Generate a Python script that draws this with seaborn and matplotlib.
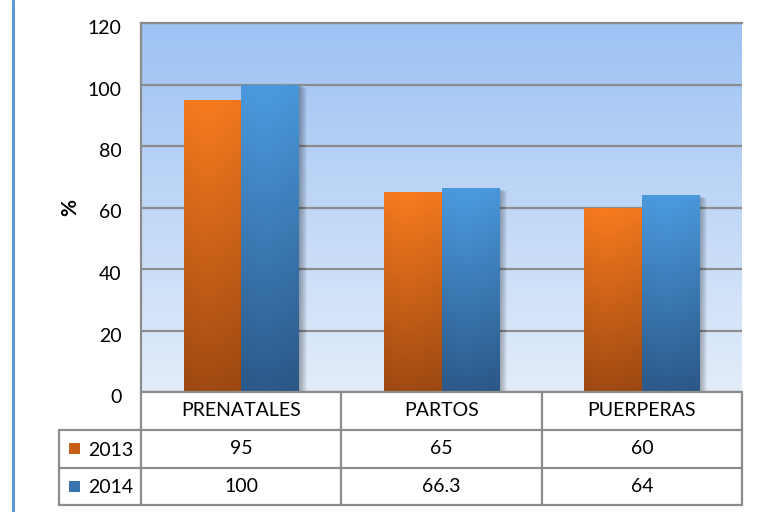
import numpy as np
import pandas as pd
import matplotlib
matplotlib.use("Agg")
import matplotlib.pyplot as plt
import seaborn as sns
from matplotlib.patches import Rectangle
from matplotlib.lines import Line2D
from matplotlib import transforms
from matplotlib.colors import to_rgb

categories = ["PRENATALES", "PARTOS", "PUERPERAS"]
years = ["2013", "2014"]
values_2013 = [95, 65, 60]
values_2014 = [100, 66.3, 64]
value_labels_2013 = ["95", "65", "60"]
value_labels_2014 = ["100", "66.3", "64"]
yticks = [0, 20, 40, 60, 80, 100, 120]

df = pd.DataFrame({
    "cat": categories * 2,
    "year": [years[0]] * 3 + [years[1]] * 3,
    "val": values_2013 + values_2014,
})

sns.set_theme(style="white")
plt.rcParams["font.family"] = ["Lato", "DejaVu Sans"]

W, H = 760, 512
fig = plt.figure(figsize=(7.6, 5.12), dpi=100)
fig.patch.set_facecolor("white")

def fx(px):
    return px / W

def fy(py):
    return 1 - py / H

L, R, T, B = 141, 742, 23, 392
ax = fig.add_axes([fx(L), fy(B), (R - L) / W, (B - T) / H])

palette = {"2013": "#D8681A", "2014": "#3E80C4"}
sns.barplot(data=df, x="cat", y="val", hue="year", palette=palette,
            width=0.574, saturation=1, legend=False, ax=ax, zorder=3)

ax.set_ylim(0, 120)
ax.set_xlim(-0.5, 2.5)
ax.set_yticks(yticks)
ax.set_yticklabels([str(t) for t in yticks])

# background gradient
top_bg, bot_bg = np.array(to_rgb("#9DC2F4")), np.array(to_rgb("#E3EDFA"))
grad = np.linspace(0, 1, 256)[:, None, None]
bg = top_bg * (1 - grad) + bot_bg * grad
ax.imshow(bg, extent=[0, 1, 0, 1], transform=ax.transAxes, aspect="auto",
          zorder=0.1, origin="upper")

grads = {
    "2013": (to_rgb("#F97C1F"), to_rgb("#A04A12")),
    "2014": (to_rgb("#4C9CE2"), to_rgb("#2C5A8A")),
}

bars = [p for p in ax.patches if isinstance(p, Rectangle)]
for p in bars:
    x0, w, h = p.get_x(), p.get_width(), p.get_height()
    if w == 0 or h == 0:
        continue
    fc = p.get_facecolor()
    key = "2013" if abs(fc[0] - to_rgb(palette["2013"])[0]) < 0.05 else "2014"
    c_top, c_bot = np.array(grads[key][0]), np.array(grads[key][1])
    g = np.linspace(0, 1, 256)[:, None, None]
    img = c_top * (1 - g) + c_bot * g
    # slight horizontal shading
    hx = np.linspace(0, 1, 32)[None, :, None]
    img = img * (1 - 0.06 * np.abs(hx - 0.4))
    img = np.clip(img, 0, 1)
    # shadow
    for k in range(1, 9):
        tr = transforms.offset_copy(ax.transData, fig=fig, x=k, y=-k * 0.4, units="dots")
        ax.add_patch(Rectangle((x0, 0), w, h, transform=tr, facecolor="black",
                               edgecolor="none", alpha=0.045, zorder=2.5))
    im = ax.imshow(img, extent=[x0, x0 + w, 0, h], aspect="auto", origin="upper",
                   zorder=3.5, interpolation="bilinear")
    im.set_clip_path(p)
    p.set_facecolor("none")
    p.set_edgecolor("none")

ax.set_ylim(0, 120)
ax.set_xlim(-0.5, 2.5)

ax.yaxis.grid(True, color="#8C8C8C", linewidth=1.6)
ax.xaxis.grid(False)
ax.set_axisbelow(True)
for s in ["right", "bottom"]:
    ax.spines[s].set_visible(False)
for s in ["left", "top"]:
    ax.spines[s].set_color("#8C8C8C")
    ax.spines[s].set_linewidth(1.6)

ax.tick_params(axis="y", length=0, pad=14, labelsize=14, labelcolor="black")
ax.tick_params(axis="x", length=0, labelbottom=False)
ax.set_xlabel("")
ax.set_ylabel("")
off = transforms.ScaledTranslation(0, -0.04, fig.dpi_scale_trans)
for lab in ax.get_yticklabels():
    lab.set_transform(lab.get_transform() + off)

fig.text(fx(70), fy(208), "%", rotation=90, ha="center", va="center",
         fontsize=15, fontweight="bold", color="black")

# left blue frame line
fig.add_artist(Line2D([fx(13), fx(13)], [0, 1], color="#5B9BD5", linewidth=2.2))

# data table
gc = "#8C8C8C"
lw = 1.6
def hline(y, x0, x1):
    fig.add_artist(Line2D([fx(x0), fx(x1)], [fy(y), fy(y)], color=gc, linewidth=lw))
def vline(x, y0, y1):
    fig.add_artist(Line2D([fx(x), fx(x)], [fy(y0), fy(y1)], color=gc, linewidth=lw))

ty0, ty1, ty2, ty3 = 392, 430, 468, 505
hline(ty0, L, R)
hline(ty1, 59, R)
hline(ty2, 59, R)
hline(ty3, 59, R)
vline(59, ty1, ty3)
vline(L, ty0, ty3)
vline(R, ty0, ty3)
for b in [0.5, 1.5]:
    xb = ax.transData.transform((b, 0))[0] / fig.dpi / 7.6
    fig.add_artist(Line2D([xb, xb], [fy(ty0), fy(ty3)], color=gc, linewidth=lw))

blend = transforms.blended_transform_factory(ax.transData, fig.transFigure)
for i, c in enumerate(categories):
    ax.text(i, fy((ty0 + ty1) / 2), c, transform=blend, ha="center", va="center",
            fontsize=14, color="black", clip_on=False)
    ax.text(i, fy((ty1 + ty2) / 2), value_labels_2013[i], transform=blend, ha="center",
            va="center", fontsize=14, color="black", clip_on=False)
    ax.text(i, fy((ty2 + ty3) / 2), value_labels_2014[i], transform=blend, ha="center",
            va="center", fontsize=14, color="black", clip_on=False)

for j, (yr, ytop, ybot) in enumerate([(years[0], ty1, ty2), (years[1], ty2, ty3)]):
    sq_top = ytop + 13
    col = "#C65E17" if j == 0 else "#3A74AE"
    fig.add_artist(Rectangle((fx(69), fy(sq_top + 11)), 11 / W, 11 / H,
                             transform=fig.transFigure, facecolor=col, edgecolor="none"))
    fig.text(fx(88), fy((ytop + ybot) / 2 + 1), yr, ha="left", va="center",
             fontsize=14, color="black")

fig.savefig("out.png", dpi=100)
